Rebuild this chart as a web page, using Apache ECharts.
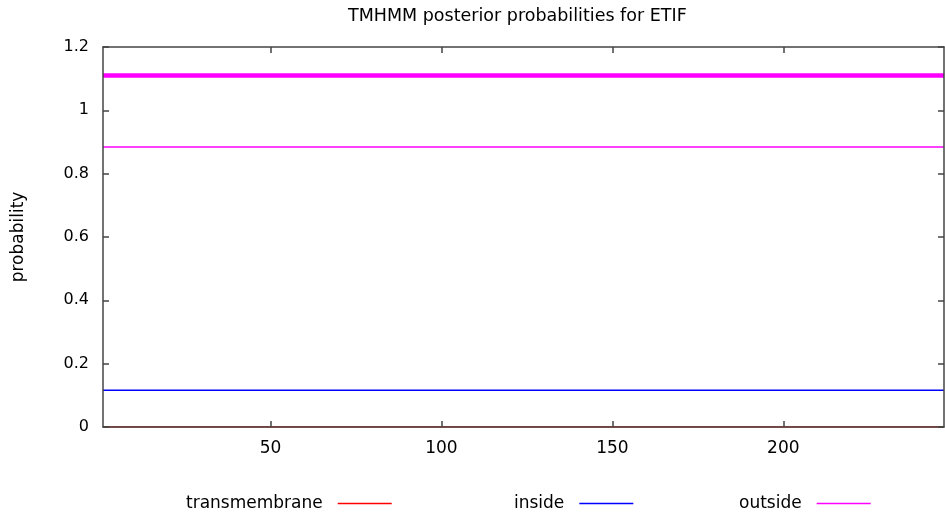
<!DOCTYPE html>
<html>
<head>
<meta charset="utf-8">
<script src="https://cdn.jsdelivr.net/npm/echarts@6/dist/echarts.min.js"></script>
<style>html,body{margin:0;padding:0;background:#fff}#c{width:945px;height:521px}</style>
</head>
<body>
<div id="c"></div>
<script>
// Data
var positions = [1, 247];               // sequence range (residues)
var transmembrane = [0, 0];
var inside = [0.116, 0.116];
var outside = [0.884, 0.884];
var topologyOutside = [1.11, 1.11];     // predicted topology bar (outside)
var xTicks = [50, 100, 150, 200];
var legendNames = ['transmembrane', 'inside', 'outside'];

function pairs(ys) { return positions.map(function (x, i) { return [x, ys[i]]; }); }

var FONT = 'DejaVu Sans';
var axisLineStyle = { color: '#444', width: 1.5 };
var tickLen = 6;
var chart = echarts.init(document.getElementById('c'));

function legendAt(name, left) {
  return {
    data: [name], left: left, top: 490, orient: 'horizontal', align: 'right',
    icon: 'rect', itemWidth: 54, itemHeight: 1.5,
    textStyle: { fontFamily: FONT, fontSize: 17, color: '#000', padding: [0, 10, 0, 0] },
    selectedMode: false
  };
}

chart.setOption({
  animation: false,
  backgroundColor: '#fff',
  title: {
    text: 'TMHMM posterior probabilities for ETIF', left: 343, top: 2,
    textStyle: { fontFamily: FONT, fontSize: 17.5, fontWeight: 'normal', color: '#000' }
  },
  legend: [legendAt(legendNames[0], 181), legendAt(legendNames[1], 509), legendAt(legendNames[2], 734)],
  grid: { left: 103, right: 1, top: 47, bottom: 94, containLabel: false },
  xAxis: [{
    type: 'value', min: positions[0], max: positions[1], z: 10,
    axisLine: { show: true, onZero: false, lineStyle: axisLineStyle },
    axisTick: { show: true, inside: true, length: tickLen, lineStyle: axisLineStyle, customValues: xTicks },
    axisLabel: { fontFamily: FONT, fontSize: 17, color: '#000', margin: 13, customValues: xTicks },
    splitLine: { show: false }
  }, {
    type: 'value', position: 'top', min: positions[0], max: positions[1], z: 10,
    axisLine: { show: true, onZero: false, lineStyle: axisLineStyle },
    axisTick: { show: true, inside: true, length: tickLen, lineStyle: axisLineStyle, customValues: xTicks },
    axisLabel: { show: false, customValues: xTicks },
    splitLine: { show: false }
  }],
  yAxis: [{
    type: 'value', min: 0, max: 1.2, interval: 0.2, z: 10,
    name: 'probability', nameLocation: 'middle', nameGap: 76, nameRotate: 90,
    nameTextStyle: { fontFamily: FONT, fontSize: 17, color: '#000' },
    axisLine: { show: true, onZero: false, lineStyle: axisLineStyle },
    axisTick: { show: true, inside: true, length: tickLen, lineStyle: axisLineStyle },
    axisLabel: { fontFamily: FONT, fontSize: 16, color: '#000', margin: 14 },
    splitLine: { show: false }
  }, {
    type: 'value', position: 'right', min: 0, max: 1.2, interval: 0.2, z: 10,
    axisLine: { show: true, onZero: false, lineStyle: axisLineStyle },
    axisTick: { show: true, inside: true, length: tickLen, lineStyle: axisLineStyle },
    axisLabel: { show: false },
    splitLine: { show: false }
  }],
  series: [
    { name: 'transmembrane', type: 'line', data: pairs(transmembrane), symbol: 'none', color: '#ff0000', lineStyle: { width: 1.5, color: '#ff0000' }, z: 1 },
    { name: 'inside', type: 'line', data: pairs(inside), symbol: 'none', color: '#0000ff', lineStyle: { width: 1.5, color: '#0000ff' } },
    { name: 'outside', type: 'line', data: pairs(outside), symbol: 'none', color: '#ff00ff', lineStyle: { width: 1.5, color: '#ff00ff' } },
    { name: 'topology', type: 'line', data: pairs(topologyOutside), symbol: 'none', color: '#ff00ff', lineStyle: { width: 4.5, color: '#ff00ff' } }
  ]
});
</script>
</body>
</html>
